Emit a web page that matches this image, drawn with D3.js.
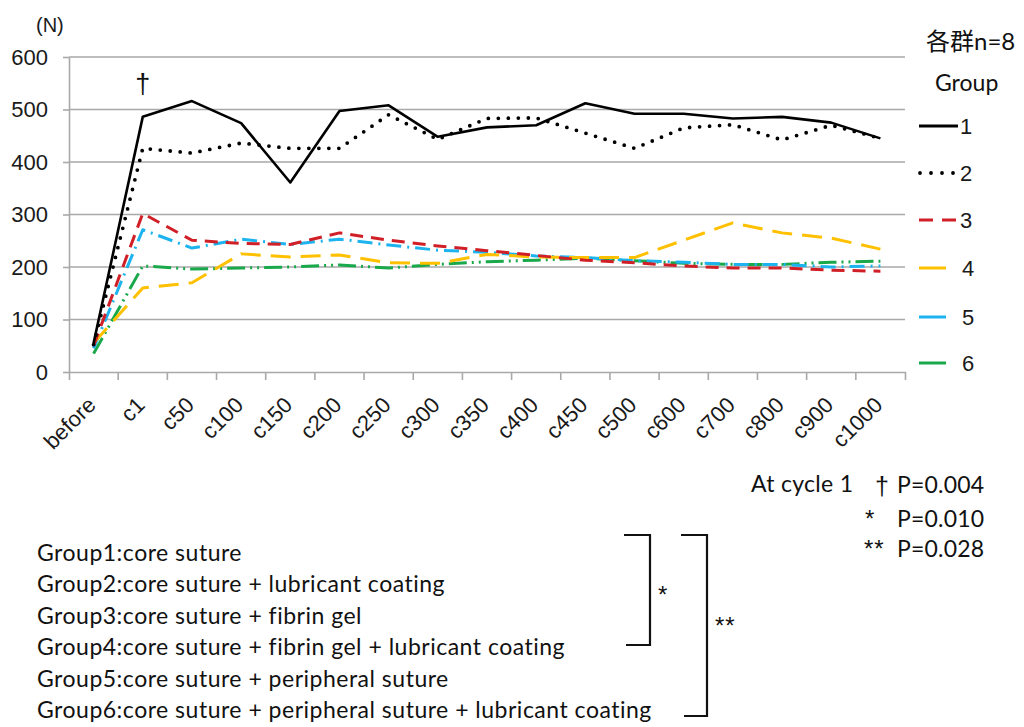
<!DOCTYPE html>
<html><head><meta charset="utf-8">
<script src="https://cdn.jsdelivr.net/npm/d3@7"></script>
<style>body{margin:0;background:#fff}svg{display:block}</style>
</head><body>
<svg id="c" width="1024" height="727"></svg>
<script>
const categories = ["before","c1","c50","c100","c150","c200","c250","c300","c350","c400","c450","c500","c600","c700","c800","c900","c1000"];
const yTicks = [0,100,200,300,400,500,600];
const groupNames = ["1","2","3","4","5","6"];
const group1 = [55,486,516,474,361,497,508,448,466,470,512,492,492,483,486,475,445];
const group2 = [52,426,417,436,426,426,490,443,483,484,455,426,465,471,442,470,445];
const group3 = [50,302,251,245,243,265,251,240,231,222,213,208,202,198,198,194,192];
const group4 = [55,160,170,225,219,223,208,207,224,219,218,218,251,284,265,255,234];
const group5 = [45,271,236,253,243,253,242,232,228,221,218,212,209,205,205,200,202];
const group6 = [35,202,196,198,200,204,198,205,210,213,217,212,207,205,205,209,211];
const descriptions = [
  "Group1:core suture",
  "Group2:core suture + lubricant coating",
  "Group3:core suture + fibrin gel",
  "Group4:core suture + fibrin gel + lubricant coating",
  "Group5:core suture + peripheral suture",
  "Group6:core suture + peripheral suture + lubricant coating"
];
const pMarks = ["\u2020","*","**"];
const pTexts = ["P=0.004","P=0.010","P=0.028"];

const series = [group1,group2,group3,group4,group5,group6];
const colors = ["#000000","#000000","#d01f26","#ffc000","#1cb3ee","#19a94b"];
const dashes = [null,"0,10","13,8","20,10","15,6,2,6","18,5,2,5,2,5"];
const widths = [2.6,3.8,3,3,3,3];

const svg = d3.select("#c");
const AX = "'Liberation Sans', Arial, sans-serif";
const CAL = "Lato, 'Open Sans', sans-serif";

const x = d3.scaleBand().domain(categories).range([69,905]);
const y = d3.scaleLinear().domain([0,600]).range([372,57]);
const cx = c => x(c) + x.bandwidth()/2;

// gridlines
svg.append("g").selectAll("line").data(yTicks.filter(d=>d>0)).join("line")
  .attr("x1",69).attr("x2",905).attr("y1",d=>y(d)).attr("y2",d=>y(d))
  .attr("stroke","#a9a9a9").attr("stroke-width",1.6);

// y axis
const ya = svg.append("g").attr("transform","translate(69,0)")
  .call(d3.axisLeft(y).tickValues(yTicks).tickSizeInner(6).tickSizeOuter(0).tickPadding(15));
ya.selectAll("path,line").attr("stroke","#a9a9a9").attr("stroke-width",1.6);
ya.selectAll("text").attr("font-family",AX).attr("font-size",22).attr("fill","#1a1a1a");

// x axis
const xa = svg.append("g").attr("transform","translate(0,372)")
  .call(d3.axisBottom(x).tickSizeInner(0).tickSizeOuter(8).tickPadding(0));
xa.select("path").attr("stroke","#a9a9a9").attr("stroke-width",1.6);
xa.selectAll("text")
  .attr("font-family",AX).attr("font-size",22).attr("fill","#1a1a1a")
  .attr("x",null).attr("y",null).attr("dy","0.35em").attr("text-anchor","end")
  .attr("transform","translate(-2,29) rotate(-45)");
xa.append("g").selectAll("line").data(categories.slice(1)).join("line")
  .attr("x1",d=>x(d)).attr("x2",d=>x(d)).attr("y1",0).attr("y2",8)
  .attr("stroke","#a9a9a9").attr("stroke-width",1.6);

// lines
const line = d3.line().x((d,i)=>cx(categories[i])).y(d=>y(d));
for (let k = series.length-1; k >= 0; k--) {
  svg.append("path").datum(series[k]).attr("d",line)
    .attr("fill","none").attr("stroke",colors[k]).attr("stroke-width",widths[k])
    .attr("stroke-dasharray",dashes[k]).attr("stroke-linecap", k===1 ? "round" : "butt")
    .attr("stroke-linejoin","round");
}

// dagger over c1
svg.append("text").attr("x",cx("c1")).attr("y",84).attr("text-anchor","middle")
  .attr("dominant-baseline","central").attr("font-family",AX).attr("font-size",27)
  .attr("fill","#111").text("\u2020");

// (N)
svg.append("text").attr("x",36).attr("y",25).attr("dominant-baseline","central")
  .attr("font-family",AX).attr("font-size",20).attr("fill","#1a1a1a").text("(N)");

// legend
svg.append("text").attr("x",926).attr("y",40).attr("dominant-baseline","central")
  .attr("font-family",CAL+", 'Noto Sans CJK JP'").attr("font-size",24).attr("fill","#111").text("各群n=8");
svg.append("text").attr("x",935).attr("y",82).attr("dominant-baseline","central")
  .attr("font-family",CAL).attr("font-size",23).attr("fill","#111").text("Group");
const legY = [126,173,220,268,317,363];
const legDash = [null,"0,11","14,9",null,null,null];
groupNames.forEach((g,i)=>{
  const x2 = i<3 ? 958 : 946;
  svg.append("line").attr("x1",i===1?920:919).attr("x2",x2).attr("y1",legY[i]).attr("y2",legY[i])
    .attr("stroke",colors[i]).attr("stroke-width",i===1?3.8:3)
    .attr("stroke-dasharray",legDash[i]).attr("stroke-linecap",i===1?"round":"butt");
  svg.append("text").attr("x",i<3?960:962).attr("y",legY[i]).attr("dominant-baseline","central")
    .attr("font-family",AX).attr("font-size",22).attr("fill","#1a1a1a").text(g);
});

// p-values
svg.append("text").attr("x",751).attr("y",483).attr("dominant-baseline","central")
  .attr("font-family",CAL).attr("font-size",23).attr("letter-spacing",0.3).attr("fill","#111").text("At cycle 1");
const pY = [484,518,548];
const pMarkX = [875,865,864];
pMarks.forEach((m,i)=>{
  if (i===0) {
    svg.append("text").attr("x",pMarkX[i]).attr("y",pY[i]+2).attr("dominant-baseline","central")
      .attr("font-family",AX).attr("font-size",25).attr("fill","#111").text(m);
  } else {
    svg.append("text").attr("x",pMarkX[i]).attr("y",pY[i]-5+14).attr("letter-spacing",1)
      .attr("font-family",AX).attr("font-size",24).attr("fill","#111").text(m);
  }
  svg.append("text").attr("x",897).attr("y",pY[i]).attr("dominant-baseline","central")
    .attr("font-family",CAL).attr("font-size",23).attr("letter-spacing",0.2).attr("fill","#111").text(pTexts[i]);
});

// descriptions
descriptions.forEach((t,i)=>{
  svg.append("text").attr("x",37).attr("y",552+i*31.4).attr("dominant-baseline","central")
    .attr("font-family",CAL).attr("font-size",23).attr("letter-spacing",0.5).attr("fill","#111").text(t);
});

// brackets
svg.append("path").attr("d","M624,535H650V645H626").attr("fill","none").attr("stroke","#111").attr("stroke-width",2.2);
svg.append("path").attr("d","M681,535H707V716H684").attr("fill","none").attr("stroke","#111").attr("stroke-width",2.2);
svg.append("text").attr("x",658).attr("y",589+14).attr("letter-spacing",1)
  .attr("font-family",AX).attr("font-size",24).attr("fill","#111").text("*");
svg.append("text").attr("x",715).attr("y",620+14).attr("letter-spacing",1)
  .attr("font-family",AX).attr("font-size",24).attr("fill","#111").text("**");
</script>
</body></html>
